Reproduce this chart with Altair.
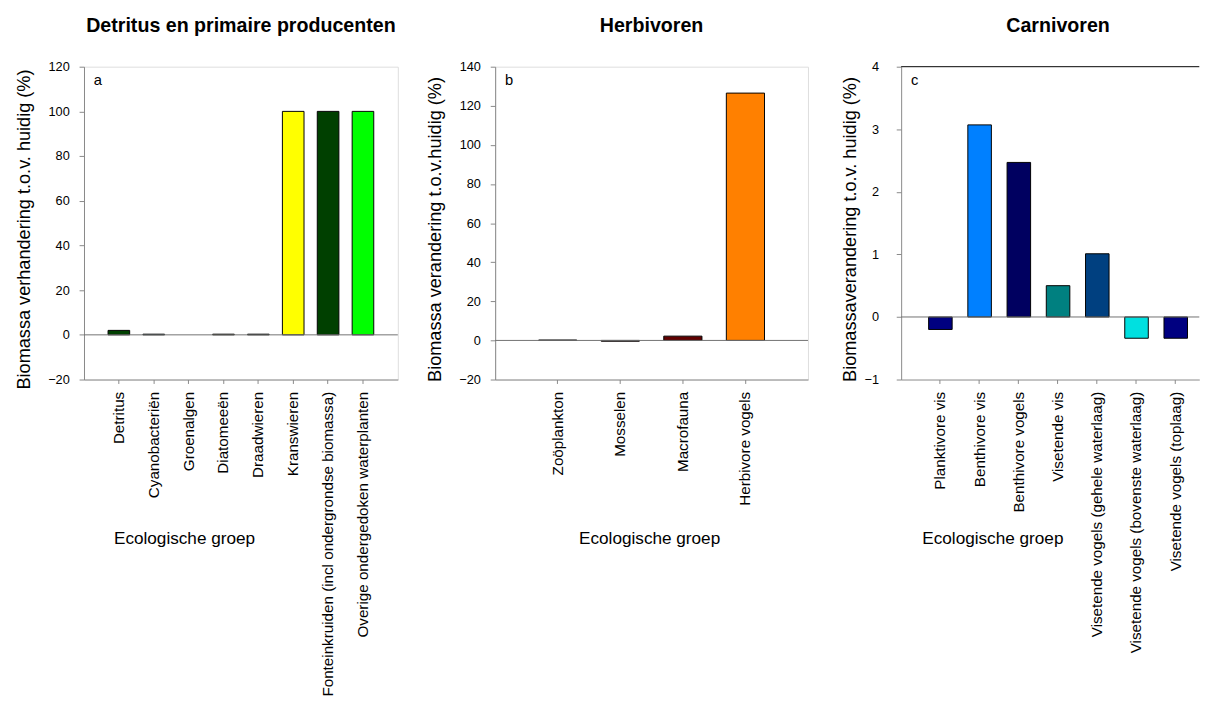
import altair as alt
import pandas as pd

FONT = "Liberation Sans"

# ---- data ----
a_title = "Detritus en primaire producenten"
a_ytitle = "Biomassa verhandering t.o.v. huidig (%)"
a_cats = ["Detritus", "Cyanobacteriën", "Groenalgen", "Diatomeeën", "Draadwieren",
          "Kranswieren", "Fonteinkruiden (incl ondergrondse biomassa)",
          "Overige ondergedoken waterplanten"]
a_vals = [2.0, 0.3, 0.0, 0.3, 0.3, 100.0, 100.0, 100.0]
a_cols = ["#004000", "#008080", "#00c000", "#808000", "#004000", "#ffff00", "#004000", "#00ff00"]
a_ticks = [-20, 0, 20, 40, 60, 80, 100, 120]

b_title = "Herbivoren"
b_ytitle = "Biomassa verandering t.o.v.huidig (%)"
b_cats = ["Zoöplankton", "Mosselen", "Macrofauna", "Herbivore vogels"]
b_vals = [0.2, -0.4, 2.2, 126.5]
b_cols = ["#800000", "#400000", "#600000", "#ff8000"]
b_ticks = [-20, 0, 20, 40, 60, 80, 100, 120, 140]

c_title = "Carnivoren"
c_ytitle = "Biomassaverandering t.o.v. huidig (%)"
c_cats = ["Planktivore vis", "Benthivore vis", "Benthivore vogels", "Visetende vis",
          "Visetende vogels (gehele waterlaag)", "Visetende vogels (bovenste waterlaag)",
          "Visetende vogels (toplaag)"]
c_vals = [-0.2, 3.07, 2.47, 0.50, 1.01, -0.34, -0.34]
c_cols = ["#000080", "#0080ff", "#000060", "#008080", "#004080", "#00e0e0", "#000080"]
c_ticks = [-1, 0, 1, 2, 3, 4]

x_title = "Ecologische groep"
letters = ["a", "b", "c"]


def panel(title, ytitle, cats, vals, cols, ticks, letter, width, height,
          band_w, pad_outer, align, x_tx, y_tx, y_lpad, title_dx, top_rule):
    df = pd.DataFrame({"cat": cats, "value": vals, "col": cols})
    lo, hi = ticks[0], ticks[-1]
    yscale = alt.Scale(domain=[lo, hi], nice=False, zero=False)
    yaxis = alt.Axis(title=ytitle, values=ticks, format="d", labelOverlap=False,
                     labelBound=False, labelFontSize=13, tickSize=5,
                     labelPadding=y_lpad, titleX=y_tx, titleY=165.5,
                     titleAlign="center", titleBaseline="middle",
                     titleFontSize=18.5, titleFontWeight="normal", grid=False)
    x = alt.X("cat:N", sort=cats,
              scale=alt.Scale(paddingInner=0, paddingOuter=pad_outer, align=align),
              axis=alt.Axis(title=x_title, labelAngle=270, labelFontSize=15.5, labelPadding=8,
                            labelLimit=1000, tickSize=4, titleX=x_tx, titleY=167,
                            titleAlign="center", titleBaseline="alphabetic", titleAngle=0,
                            titleFontSize=17.5, titleFontWeight="normal"))
    bars = alt.Chart(df).mark_bar(width=alt.RelativeBandSize(band_w), stroke="black",
                                  strokeWidth=1).encode(
        x=x, y=alt.Y("value:Q", scale=yscale, axis=yaxis), y2=alt.datum(0),
        color=alt.Color("col:N", scale=None),
        strokeOpacity=alt.condition("datum.value == 0", alt.value(0), alt.value(1)),
    )
    zero = alt.Chart(pd.DataFrame({"value": [0]})).mark_rule(
        color="#707070", strokeWidth=1).encode(
        y=alt.Y("value:Q", scale=yscale, axis=yaxis))
    lab = alt.Chart(pd.DataFrame({"t": [letter]})).mark_text(
        align="left", baseline="alphabetic", fontSize=15, font=FONT, color="black").encode(
        text="t:N", x=alt.value(10), y=alt.value(19))
    layers = [bars, zero, lab]
    if top_rule:
        top = alt.Chart(pd.DataFrame({"value": [hi]})).mark_rule(
            color="black", strokeWidth=1).encode(
            y=alt.Y("value:Q", scale=yscale, axis=yaxis))
        layers.append(top)
    ch = alt.layer(*layers).properties(
        width=width, height=height,
        title=alt.TitleParams(title, fontSize=20, fontWeight="bold", font=FONT,
                              offset=9, baseline="alphabetic", anchor="middle",
                              frame="group", dx=title_dx, color="black"))
    if top_rule:
        ch = ch.properties(view=alt.ViewBackground(stroke="transparent"))
    return ch


pa = panel(a_title, a_ytitle, a_cats, a_vals, a_cols, a_ticks, letters[0], 320, 319,
           0.62, 0.5, 0.5, 102, -62, 10, 0, False)
pb = panel(b_title, b_ytitle, b_cats, b_vals, b_cols, b_ticks, letters[1], 319, 319,
           0.61, 0.5, 0.5, 157, -62, 10, 0, False)
pc = panel(c_title, c_ytitle, c_cats, c_vals, c_cols, c_ticks, letters[2], 304, 319,
           0.6, 0.3, 0.8333, 93, -53, 18, 8, True)

chart = alt.hconcat(alt.hconcat(pa, pb, spacing=26.25), pc, spacing=30.25).properties(
    padding={"left": 5.5, "top": 1, "right": 0, "bottom": 0}
).configure_view(stroke="black", strokeWidth=1).configure_axis(
    domainColor="black", tickColor="black", labelColor="black", titleColor="black",
    labelFont=FONT, titleFont=FONT, grid=False
).configure(background="white")

chart.save("out.html", embed_options={"renderer": "svg", "actions": False})
